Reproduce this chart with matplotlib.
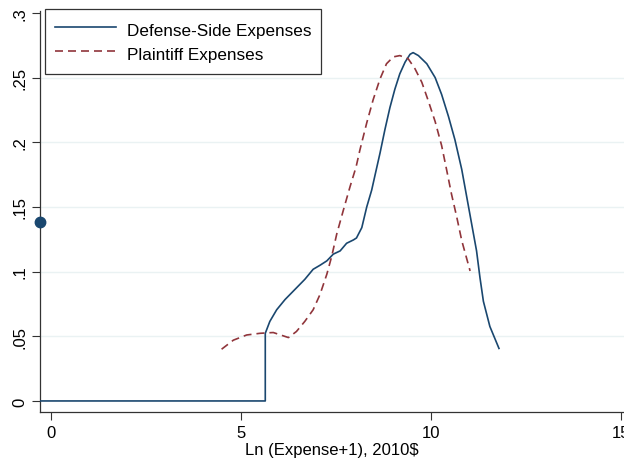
import matplotlib
matplotlib.use("Agg")
import matplotlib.pyplot as plt

# ---- data ----
defense_x = [-0.29, 2.7, 5.64, 5.64, 5.76, 5.94, 6.16, 6.42, 6.68, 6.90, 7.08, 7.26, 7.43, 7.61,
             7.78, 7.96, 8.04, 8.18, 8.31, 8.44, 8.53, 8.66, 8.79, 8.92, 9.05, 9.18, 9.32,
             9.45, 9.53, 9.67, 9.89, 10.11, 10.28, 10.46, 10.63, 10.81, 10.94, 11.07, 11.20,
             11.29, 11.38, 11.55, 11.79]
defense_y = [0.0, 0.0, 0.0, 0.0523, 0.0615, 0.0705, 0.0784, 0.0862, 0.094, 0.1018, 0.1049, 0.1083,
             0.1135, 0.116, 0.1219, 0.1245, 0.126, 0.134, 0.150, 0.163, 0.1748, 0.1917, 0.210,
             0.2268, 0.241, 0.2529, 0.262, 0.268, 0.2693, 0.267, 0.2607, 0.250, 0.237, 0.220,
             0.202, 0.179, 0.158, 0.137, 0.116, 0.0953, 0.077, 0.0576, 0.0406]

plaintiff_x = [4.49, 4.80, 5.15, 5.50, 5.85, 6.25, 6.46, 6.68, 6.90, 7.08, 7.26, 7.39, 7.52,
               7.69, 7.87, 8.03, 8.13, 8.31, 8.48, 8.66, 8.83, 9.01, 9.18, 9.40, 9.58, 9.76,
               9.93, 10.11, 10.28, 10.41, 10.54, 10.68, 10.81, 11.03]
plaintiff_y = [0.040, 0.047, 0.051, 0.0523, 0.0529, 0.049, 0.0537, 0.0615, 0.0705, 0.0823, 0.098,
               0.112, 0.129, 0.147, 0.1656, 0.181, 0.194, 0.215, 0.233, 0.249, 0.2607, 0.266,
               0.267, 0.2646, 0.2568, 0.2463, 0.232, 0.216, 0.1975, 0.179, 0.160, 0.142, 0.124,
               0.1005]

mass_x = [-0.29]
mass_y = [0.138]

x_ticks = [0, 5, 10, 15]
x_tick_labels = ["0", "5", "10", "15"]
y_ticks = [0, 0.05, 0.1, 0.15, 0.2, 0.25, 0.3]
y_tick_labels = ["0", ".05", ".1", ".15", ".2", ".25", ".3"]

labels = ["Defense-Side Expenses", "Plaintiff Expenses"]
xlabel = "Ln (Expense+1), 2010$"

# ---- styling ----
plt.rcParams['font.family'] = ['Liberation Sans', 'DejaVu Sans']
navy = "#1a476f"
maroon = "#90353b"

fig = plt.figure(figsize=(6.24, 4.60), dpi=100)
ax = fig.add_axes([0.064, 0.102, 0.936, 0.872])

for yv in y_ticks[1:-1]:
    ax.axhline(yv, color="#eaf2f3", lw=1.0, zorder=0)

ax.plot(defense_x, defense_y, color=navy, lw=1.2, label=labels[0], zorder=3)
ax.plot(plaintiff_x, plaintiff_y, color=maroon, lw=1.2, ls=(0, (4.8, 3.0)), label=labels[1], zorder=3)
ax.plot(mass_x, mass_y, 'o', color=navy, markersize=7.5, clip_on=False, zorder=4)

ax.set_xlim(-0.29, 15.08)
ax.set_ylim(-0.0086, 0.3015)

ax.set_xticks(x_ticks)
ax.set_xticklabels(x_tick_labels)
ax.set_yticks(y_ticks)
ax.set_yticklabels(y_tick_labels, rotation=90, va="center")

ax.tick_params(axis="both", direction="out", length=6, width=0.8, color="#333333",
               labelsize=12, pad=3)
for s in ["top", "right"]:
    ax.spines[s].set_visible(False)
for s in ["left", "bottom"]:
    ax.spines[s].set_color("#333333")
    ax.spines[s].set_linewidth(0.9)

ax.set_xlabel(xlabel, fontsize=12, labelpad=1.5)

leg = ax.legend(loc="upper left", bbox_to_anchor=(0.008, 1.006), fontsize=12.3,
                frameon=True, fancybox=False, edgecolor="black", handlelength=3.6,
                handleheight=1.5, borderpad=0.6, labelspacing=0.2, handletextpad=0.6,
                borderaxespad=0.0)
leg.get_frame().set_linewidth(0.9)

fig.savefig("out.png", dpi=100, facecolor="white")
